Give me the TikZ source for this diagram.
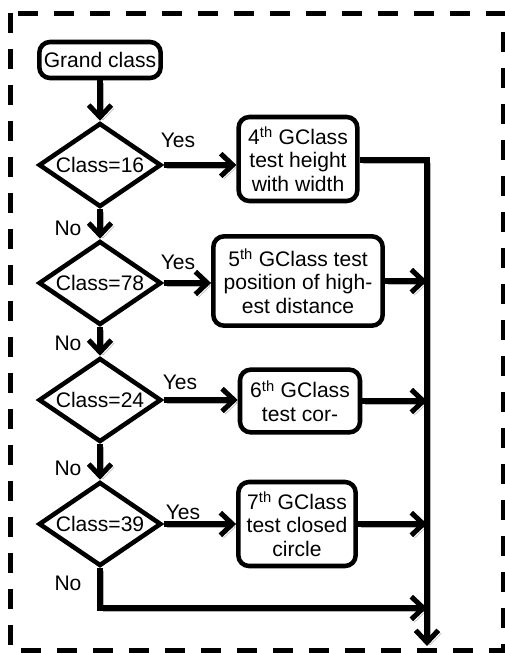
\documentclass[tikz,border=0pt]{standalone}
\usepackage{fontspec}
\setmainfont{Liberation Sans}
\usetikzlibrary{shapes.geometric,arrows.meta}

\tikzset{
	decision/.style={draw, line width=3.4pt, diamond, aspect=1.46, inner sep=0pt, minimum width=92pt, minimum height=63pt},
	process/.style={draw, line width=3.4pt, rounded corners=8pt, align=center, inner sep=1pt},
	flow/.style={line width=3.8pt, -{Straight Barb[length=9pt,width=17pt]},
		preaction={draw=gray!60, transform canvas={shift={(2.2pt,-2.2pt)}}}},
	lbl/.style={inner sep=0pt}
}

\begin{document}
\begin{tikzpicture}[x=0.75pt,y=0.75pt,yscale=-1,xscale=1,font=\fontsize{15.8}{17.6}\selectfont]
	\useasboundingbox (0,0) rectangle (505,653);

	%Dashed frame
	\draw [line width=3.75pt, dash pattern=on 15pt off 12pt] (10,13) rectangle (503,650);

	% Start
	\node (grand) at (100,60) [process, minimum width=91pt, minimum height=27pt] {Grand class};

	% Decisions
	\node (d16) at (100,165) [decision] {Class=16};
	\node (d78) at (100,283) [decision] {Class=78};
	\node (d24) at (100,400) [decision] {Class=24};
	\node (d39) at (100,524) [decision] {Class=39};

	% Tests
	\node (t4) at (298,159) [process, minimum width=89pt, minimum height=63pt] {4\textsuperscript{th} GClass\\test height\\with width};
	\node (t5) at (298,281) [process, minimum width=127pt, minimum height=67pt] {5\textsuperscript{th} GClass test\\position of high-\\est distance};
	\node (t6) at (300,401) [process, minimum width=90pt, minimum height=47pt] {6\textsuperscript{th} GClass\\test cor-};
	\node (t7) at (297,524) [process, minimum width=88pt, minimum height=63pt] {7\textsuperscript{th} GClass\\test closed\\circle};

	% Bus
	\coordinate (busTop) at (427,160);
	\coordinate (busEnd) at (427,646);
	\coordinate (noTurn) at (100,608);

	%Straight Lines
	\draw [flow] (grand) -- (d16);
	\draw [flow] (d16) -- (t4.west |- d16);
	\draw [flow] (d16) -- (d78);
	\draw [flow] (d78) -- (t5.west |- d78);
	\draw [flow] (d78) -- (d24);
	\draw [flow] (d24) -- (t6.west |- d24);
	\draw [flow] (d24) -- (d39);
	\draw [flow] (d39) -- (t7.west |- d39);
	\draw [flow] (d39.south) -- (noTurn) -- (noTurn -| busTop);
	\draw [flow] (t5.east) -- (t5.east -| busTop);
	\draw [flow] (t6.east) -- (t6.east -| busTop);
	\draw [flow] (t7.east) -- (t7.east -| busTop);
	\draw [flow] (t4.east |- busTop) -- (busTop) -- (busEnd);

	% Labels
	\node (y16) at (178,140) [lbl] {Yes};
	\node (y78) at (178,262) [lbl] {Yes};
	\node (y24) at (180,382) [lbl] {Yes};
	\node (y39) at (183,512) [lbl] {Yes};
	\node (n16) at (68,228) [lbl] {No};
	\node (n78) at (68,343) [lbl] {No};
	\node (n24) at (68,468) [lbl] {No};
	\node (n39) at (68,583) [lbl] {No};
\end{tikzpicture}
\end{document}
